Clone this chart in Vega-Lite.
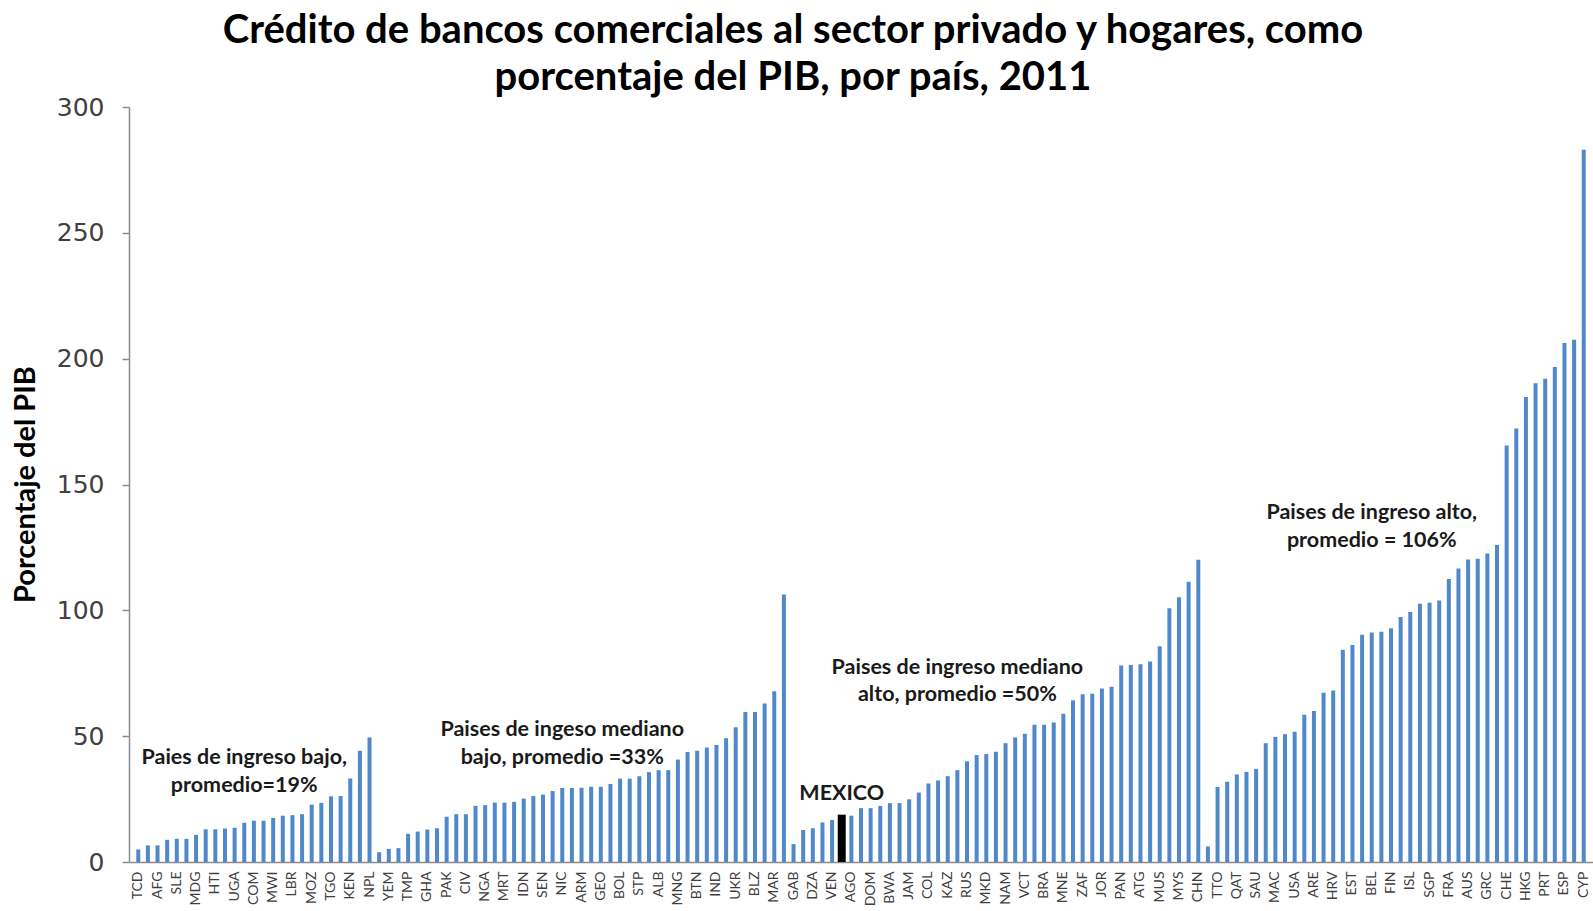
{
  "$schema": "https://vega.github.io/schema/vega-lite/v6.json",
  "autosize": {"type": "none"},
  "padding": {"left": 129, "top": 107, "right": 0, "bottom": 49},
  "width": 1464,
  "height": 755,
  "background": "white",
  "config": {"view": {"stroke": null}},
  "title": {
    "text": ["Crédito de bancos comerciales al sector privado y hogares, como", "porcentaje del PIB, por país, 2011"],
    "font": "Lato", "fontWeight": "bold", "fontSize": 40, "color": "#000000",
    "anchor": "middle", "dx": -68, "offset": -3, "lineHeight": 47
  },
  "data": {"values": [
    {"pais": "TCD", "valor": 5},
    {"pais": "_2", "valor": 6.6},
    {"pais": "AFG", "valor": 6.6},
    {"pais": "_4", "valor": 8.8},
    {"pais": "SLE", "valor": 9.2},
    {"pais": "_6", "valor": 9.2},
    {"pais": "MDG", "valor": 10.8},
    {"pais": "_8", "valor": 13},
    {"pais": "HTI", "valor": 13},
    {"pais": "_10", "valor": 13.3},
    {"pais": "UGA", "valor": 13.6},
    {"pais": "_12", "valor": 15.6, "nota": "Paies de ingreso bajo,\npromedio=19%", "nota_y": 41.3},
    {"pais": "COM", "valor": 16.4},
    {"pais": "_14", "valor": 16.4},
    {"pais": "MWI", "valor": 17.5},
    {"pais": "_16", "valor": 18.4},
    {"pais": "LBR", "valor": 18.6},
    {"pais": "_18", "valor": 19},
    {"pais": "MOZ", "valor": 22.8},
    {"pais": "_20", "valor": 23.5},
    {"pais": "TGO", "valor": 26.1},
    {"pais": "_22", "valor": 26.2},
    {"pais": "KEN", "valor": 33.2},
    {"pais": "_24", "valor": 44.2},
    {"pais": "NPL", "valor": 49.5},
    {"pais": "_26", "valor": 3.9},
    {"pais": "YEM", "valor": 5.2},
    {"pais": "_28", "valor": 5.5},
    {"pais": "TMP", "valor": 11.2},
    {"pais": "_30", "valor": 12.1},
    {"pais": "GHA", "valor": 12.9},
    {"pais": "_32", "valor": 13.4},
    {"pais": "PAK", "valor": 18},
    {"pais": "_34", "valor": 19},
    {"pais": "CIV", "valor": 19},
    {"pais": "_36", "valor": 22.3},
    {"pais": "NGA", "valor": 22.6},
    {"pais": "_38", "valor": 23.6},
    {"pais": "MRT", "valor": 23.6},
    {"pais": "_40", "valor": 23.9},
    {"pais": "IDN", "valor": 25.2},
    {"pais": "_42", "valor": 26.2},
    {"pais": "SEN", "valor": 26.8},
    {"pais": "_44", "valor": 28.2},
    {"pais": "NIC", "valor": 29.4, "nota": "Paises de ingeso mediano\nbajo, promedio =33%", "nota_y": 52.3},
    {"pais": "_46", "valor": 29.4},
    {"pais": "ARM", "valor": 29.5},
    {"pais": "_48", "valor": 29.9},
    {"pais": "GEO", "valor": 29.9},
    {"pais": "_50", "valor": 31},
    {"pais": "BOL", "valor": 33.1},
    {"pais": "_52", "valor": 33.1},
    {"pais": "STP", "valor": 34.1},
    {"pais": "_54", "valor": 35.7},
    {"pais": "ALB", "valor": 36.5},
    {"pais": "_56", "valor": 36.5},
    {"pais": "MNG", "valor": 40.7},
    {"pais": "_58", "valor": 43.7},
    {"pais": "BTN", "valor": 44.2},
    {"pais": "_60", "valor": 45.5},
    {"pais": "IND", "valor": 46.5},
    {"pais": "_62", "valor": 49.2},
    {"pais": "UKR", "valor": 53.5},
    {"pais": "_64", "valor": 59.6},
    {"pais": "BLZ", "valor": 59.6},
    {"pais": "_66", "valor": 63},
    {"pais": "MAR", "valor": 67.8},
    {"pais": "_68", "valor": 106.3},
    {"pais": "GAB", "valor": 7.1},
    {"pais": "_70", "valor": 12.7},
    {"pais": "DZA", "valor": 13.4},
    {"pais": "_72", "valor": 15.7},
    {"pais": "VEN", "valor": 16.7},
    {"pais": "_74", "valor": 18.8, "resaltado": "México", "nota": "MEXICO", "nota_y": 27},
    {"pais": "AGO", "valor": 18.4},
    {"pais": "_76", "valor": 21.4},
    {"pais": "DOM", "valor": 21.4},
    {"pais": "_78", "valor": 22.3},
    {"pais": "BWA", "valor": 23.4},
    {"pais": "_80", "valor": 23.4},
    {"pais": "JAM", "valor": 24.9},
    {"pais": "_82", "valor": 27.6},
    {"pais": "COL", "valor": 31.2},
    {"pais": "_84", "valor": 32.4},
    {"pais": "KAZ", "valor": 34.1},
    {"pais": "_86", "valor": 36.5, "nota": "Paises de ingreso mediano\nalto, promedio =50%", "nota_y": 77.1},
    {"pais": "RUS", "valor": 40},
    {"pais": "_88", "valor": 42.5},
    {"pais": "MKD", "valor": 42.9},
    {"pais": "_90", "valor": 43.8},
    {"pais": "NAM", "valor": 47.2},
    {"pais": "_92", "valor": 49.5},
    {"pais": "VCT", "valor": 51},
    {"pais": "_94", "valor": 54.5},
    {"pais": "BRA", "valor": 54.5},
    {"pais": "_96", "valor": 55.4},
    {"pais": "MNE", "valor": 58.9},
    {"pais": "_98", "valor": 64.3},
    {"pais": "ZAF", "valor": 66.7},
    {"pais": "_100", "valor": 66.9},
    {"pais": "JOR", "valor": 68.9},
    {"pais": "_102", "valor": 69.6},
    {"pais": "PAN", "valor": 78.1},
    {"pais": "_104", "valor": 78.3},
    {"pais": "ATG", "valor": 78.6},
    {"pais": "_106", "valor": 79.7},
    {"pais": "MUS", "valor": 85.7},
    {"pais": "_108", "valor": 100.8},
    {"pais": "MYS", "valor": 105.2},
    {"pais": "_110", "valor": 111.4},
    {"pais": "CHN", "valor": 120.1},
    {"pais": "_112", "valor": 6.2},
    {"pais": "TTO", "valor": 29.8},
    {"pais": "_114", "valor": 31.9},
    {"pais": "QAT", "valor": 34.8},
    {"pais": "_116", "valor": 35.8},
    {"pais": "SAU", "valor": 37},
    {"pais": "_118", "valor": 47.2},
    {"pais": "MAC", "valor": 49.7},
    {"pais": "_120", "valor": 50.8},
    {"pais": "USA", "valor": 51.8},
    {"pais": "_122", "valor": 58.5},
    {"pais": "ARE", "valor": 60},
    {"pais": "_124", "valor": 67.3},
    {"pais": "HRV", "valor": 68.1},
    {"pais": "_126", "valor": 84.3},
    {"pais": "EST", "valor": 86.2},
    {"pais": "_128", "valor": 90.3},
    {"pais": "BEL", "valor": 91.2, "nota": "Paises de ingreso alto,\npromedio = 106%", "nota_y": 138.6},
    {"pais": "_130", "valor": 91.5},
    {"pais": "FIN", "valor": 92.9},
    {"pais": "_132", "valor": 97.4},
    {"pais": "ISL", "valor": 99.3},
    {"pais": "_134", "valor": 102.6},
    {"pais": "SGP", "valor": 103},
    {"pais": "_136", "valor": 103.9},
    {"pais": "FRA", "valor": 112.5},
    {"pais": "_138", "valor": 116.6},
    {"pais": "AUS", "valor": 120.2},
    {"pais": "_140", "valor": 120.5},
    {"pais": "GRC", "valor": 122.6},
    {"pais": "_142", "valor": 126},
    {"pais": "CHE", "valor": 165.5},
    {"pais": "_144", "valor": 172.3},
    {"pais": "HKG", "valor": 184.8},
    {"pais": "_146", "valor": 190.2},
    {"pais": "PRT", "valor": 192},
    {"pais": "_148", "valor": 196.7},
    {"pais": "ESP", "valor": 206.2},
    {"pais": "_150", "valor": 207.5},
    {"pais": "CYP", "valor": 283}
  ]},
  "encoding": {
    "x": {
      "field": "pais", "type": "nominal", "sort": null,
      "scale": {"paddingInner": 0.58, "paddingOuter": 0.75},
      "axis": {
        "title": null, "ticks": false, "labelAngle": -90,
        "labelExpr": "substring(datum.value, 0, 1) == '_' ? '' : datum.value",
        "labelOverlap": false, "labelFont": "Lato", "labelFontSize": 14,
        "labelColor": "#404040", "labelPadding": 9,
        "domainColor": "#8c8c8c", "domainWidth": 1.5
      }
    },
    "y": {
      "field": "valor", "type": "quantitative",
      "scale": {"domain": [0, 300], "nice": false, "zero": true},
      "axis": {
        "values": [0, 50, 100, 150, 200, 250, 300], "grid": false,
        "tickSize": 7, "tickColor": "#8c8c8c", "tickWidth": 1.5,
        "domainColor": "#8c8c8c", "domainWidth": 1.5,
        "labelFont": "DejaVu Sans", "labelFontSize": 25, "labelColor": "#404040",
        "labelPadding": 18,
        "title": "Porcentaje del PIB", "titleFont": "Lato", "titleFontWeight": "bold",
        "titleFontSize": 29, "titleColor": "#000000",
        "titleX": -104, "titleY": 377, "titleAngle": -90,
        "titleAlign": "center", "titleBaseline": "middle"
      }
    }
  },
  "layer": [
    {
      "mark": {"type": "bar"},
      "encoding": {
        "color": {"condition": {"test": "datum.resaltado == 'México'", "value": "#000000"}, "value": "#5089cb"},
        "size": {"condition": {"test": "datum.resaltado == 'México'", "value": 8}, "value": 4}
      }
    },
    {
      "transform": [{"filter": "datum.nota != null"}],
      "mark": {
        "type": "text", "font": "Lato", "fontWeight": "bold", "fontSize": 21.5,
        "color": "#1a1a1a", "align": "center", "baseline": "middle",
        "lineBreak": "\n", "lineHeight": 27.5
      },
      "encoding": {
        "y": {"field": "nota_y", "type": "quantitative"},
        "text": {"field": "nota", "type": "nominal"}
      }
    }
  ]
}
